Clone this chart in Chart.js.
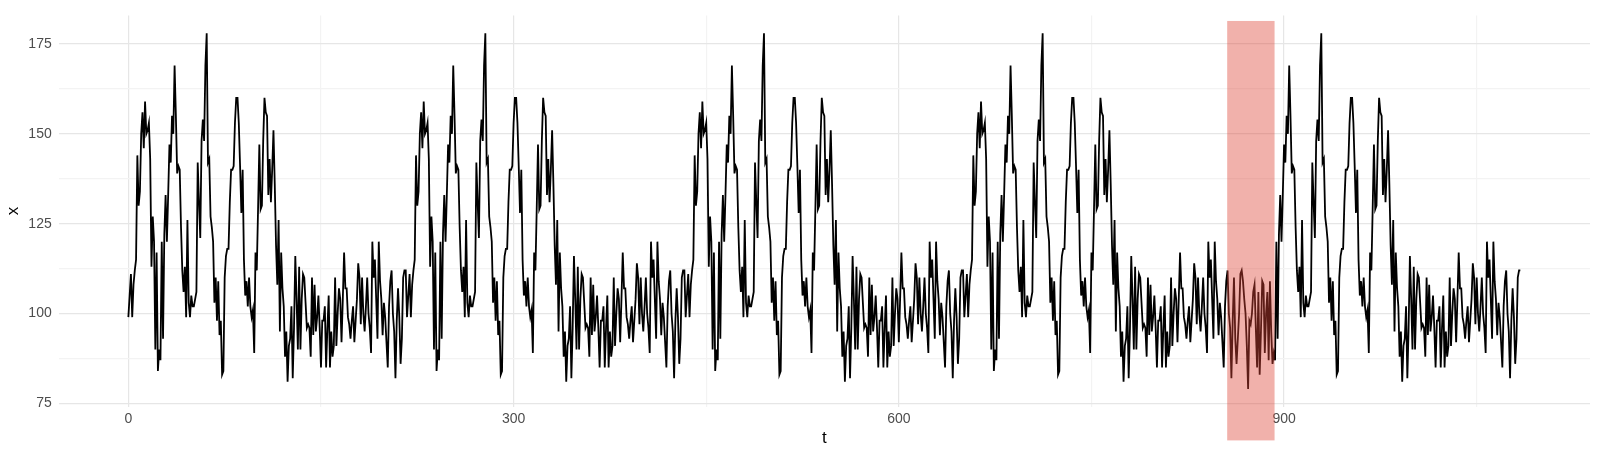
<!DOCTYPE html>
<html>
<head>
<meta charset="utf-8">
<script src="https://cdn.jsdelivr.net/npm/chart.js@4.4.1/dist/chart.umd.min.js"></script>
<style>
  html, body { margin: 0; padding: 0; background: #fff; }
  #wrap { width: 1600px; height: 455px; position: relative; }
</style>
</head>
<body>
<div id="wrap"><canvas id="chart"></canvas></div>
<script>
'use strict';

// ── Daten ──
// one repeating cycle of x (t = 0..216); the series shows it 5 times
const CYCLE = [
  99,105,111,99,108,112,115,144,130,134,
  150,156,146,159,150,151,153,143,113,127,
  120,90,117,84,90,87,120,93,122,133,
  120,133,147,142,155,150,169,155,139,141,
  140,124,112,106,113,99,126,103,99,105,
  102,102,104,106,142,131,121,148,154,148,
  169,178,142,143,127,124,120,103,110,98,
  109,94,98,83,84,110,116,118,118,131,
  140,140,141,153,160,160,153,141,128,140,
  115,105,109,102,110,102,99,101,89,117,
  112,129,147,129,130,148,160,156,155,133,
  143,131,140,151,136,119,108,126,95,117,
  107,102,88,95,81,91,93,102,82,96,
  116,104,90,113,90,104,111,110,103,96,
  97,96,88,110,94,108,95,99,105,96,
  85,98,98,102,85,96,105,85,95,88,
  91,110,91,100,107,104,92,104,117,107,
  107,99,97,93,98,102,92,98,104,114,
  110,97,110,100,95,102,110,100,96,89,
  120,110,115,104,93,120,109,104,94,103,
  99,92,85,102,109,112,100,95,82,98,
  107,99,86,93,110,112,112
];
const CYCLES = 5;

// anomalous stretch inside the shaded window (t = 856..892)
const ANOMALY_START = 856;
const ANOMALY = [
  112,100,96,82,98,110,93,86,93,100,
  111,112,109,104,100,91,79,98,97,100,
  106,108,96,85,106,83,95,109,108,89,
  100,106,87,109,95,86,89
];

// shaded window (data units)
const SHADE_T = [855.7, 892.6];
const SHADE_X = [64.7, 181.4];

const X_TICKS = [0, 300, 600, 900];
const Y_TICKS = [75, 100, 125, 150, 175];
const X_RANGE = [-54.25, 1138.25];
const Y_RANGE = [74.05, 182.95];

// ── Serie aufbauen ──
const series = [];
for (let t = 0; t < CYCLE.length * CYCLES; t++) {
  const k = t - ANOMALY_START;
  const v = (k >= 0 && k < ANOMALY.length) ? ANOMALY[k] : CYCLE[t % CYCLE.length];
  series.push({ x: t, y: v });
}

// major ticks plus the minor lines halfway between them
function gridTicks(major, lo, hi) {
  const half = (major[1] - major[0]) / 2;
  const out = [];
  for (let v = major[0] - 10 * half; v <= hi; v += half) {
    if (v >= lo) out.push({ value: v });
  }
  return out;
}

const TICK_FONT  = { family: "'Liberation Sans', Arial, sans-serif", size: 14 };
const TITLE_FONT = { family: "'Liberation Sans', Arial, sans-serif", size: 17 };
const gridColor  = major => ctx => major.includes(ctx.tick && ctx.tick.value) ? '#E6E6E6' : '#F3F3F3';

// shaded rectangle on top of the line
const shadePlugin = {
  id: 'shade',
  afterDatasetsDraw(chart) {
    const { ctx, scales: { x, y } } = chart;
    const x0 = x.getPixelForValue(SHADE_T[0]);
    const x1 = x.getPixelForValue(SHADE_T[1]);
    const y0 = y.getPixelForValue(SHADE_X[1]);
    const y1 = y.getPixelForValue(SHADE_X[0]);
    ctx.save();
    ctx.fillStyle = 'rgba(222,70,55,0.42)';
    ctx.fillRect(x0, y0, x1 - x0, y1 - y0);
    ctx.restore();
  }
};

new Chart(document.getElementById('chart'), {
  type: 'line',
  data: {
    datasets: [{
      data: series,
      borderColor: '#000',
      borderWidth: 1.8,
      pointRadius: 0,
      tension: 0,
      fill: false,
    }]
  },
  options: {
    responsive: true,
    maintainAspectRatio: false,
    devicePixelRatio: 1,
    animation: false,
    parsing: false,
    normalized: true,
    layout: { padding: { top: 8, right: 10, left: 0, bottom: 0 } },
    plugins: { legend: { display: false }, tooltip: { enabled: false } },
    scales: {
      x: {
        type: 'linear',
        min: X_RANGE[0], max: X_RANGE[1],
        afterBuildTicks: s => { s.ticks = gridTicks(X_TICKS, X_RANGE[0], X_RANGE[1]); },
        afterFit: s => { s.height = 48.2; },
        border: { display: false },
        grid: { color: gridColor(X_TICKS), lineWidth: 1.2, drawTicks: false },
        ticks: {
          autoSkip: false, maxRotation: 0,
          padding: 3.8, color: '#4D4D4D', font: TICK_FONT,
          callback: v => X_TICKS.includes(v) ? String(v) : '',
        },
        title: { display: true, text: 't', color: '#000', font: TITLE_FONT, padding: { top: 0, bottom: 6.8 } },
      },
      y: {
        type: 'linear',
        min: Y_RANGE[0], max: Y_RANGE[1],
        afterBuildTicks: s => { s.ticks = gridTicks(Y_TICKS, Y_RANGE[0], Y_RANGE[1]); },
        afterFit: s => { s.width = 58.7; },
        border: { display: false },
        grid: { color: gridColor(Y_TICKS), lineWidth: 1.2, drawTicks: false },
        ticks: {
          autoSkip: false,
          padding: 7, color: '#4D4D4D', font: TICK_FONT,
          callback: v => Y_TICKS.includes(v) ? String(v) : '',
        },
        title: { display: true, text: 'x', color: '#000', font: TITLE_FONT, padding: { top: 3.6, bottom: 0 } },
      },
    },
  },
  plugins: [shadePlugin],
});
</script>
</body>
</html>
